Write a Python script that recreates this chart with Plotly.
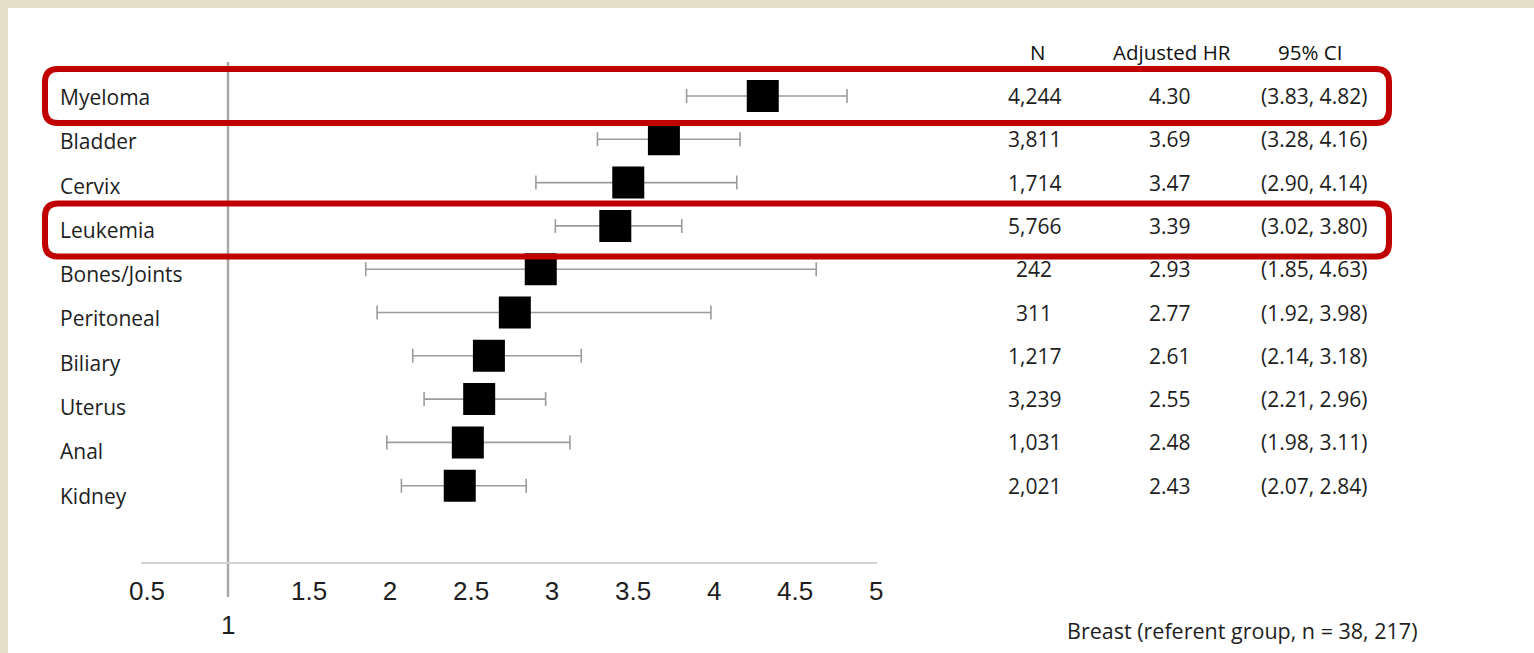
import plotly.graph_objects as go

# Forest plot data (site vs breast referent group)
sites = ["Myeloma", "Bladder", "Cervix", "Leukemia", "Bones/Joints",
         "Peritoneal", "Biliary", "Uterus", "Anal", "Kidney"]
n_cases = ["4,244", "3,811", "1,714", "5,766", "242",
           "311", "1,217", "3,239", "1,031", "2,021"]
hr = [4.30, 3.69, 3.47, 3.39, 2.93, 2.77, 2.61, 2.55, 2.48, 2.43]
ci_low = [3.83, 3.28, 2.90, 3.02, 1.85, 1.92, 2.14, 2.21, 1.98, 2.07]
ci_high = [4.82, 4.16, 4.14, 3.80, 4.63, 3.98, 3.18, 2.96, 3.11, 2.84]
tick_vals = [0.5, 1, 1.5, 2, 2.5, 3, 3.5, 4, 4.5, 5]
tick_text = ["0.5", "", "1.5", "2", "2.5", "3", "3.5", "4", "4.5", "5"]
highlighted = ["Myeloma", "Leukemia"]
headers = ["N", "Adjusted HR", "95% CI"]
footnote = "Breast (referent group, n = 38, 217)"

W, H = 1534, 653
TEXT_FONT = "Open Sans"
TICK_FONT = "Liberation Sans, Arial"
INK = "#1e1e1e"


def px_x(p):
    return p / W


def px_y(p):
    return 1 - p / H


rows = list(range(len(sites)))

fig = go.Figure()
fig.add_trace(go.Scatter(
    x=hr, y=rows, mode="markers",
    marker=dict(symbol="square", size=32, color="black", line=dict(width=0)),
    error_x=dict(type="data", symmetric=False,
                 array=[h - m for h, m in zip(ci_high, hr)],
                 arrayminus=[m - l for m, l in zip(hr, ci_low)],
                 color="#9c9c9c", thickness=1.6, width=7),
    hoverinfo="skip", showlegend=False,
))

annotations = []
# site names, left aligned
for i, s in enumerate(sites):
    annotations.append(dict(
        x=px_x(58), y=px_y(97 + 44.3 * i), xref="paper", yref="paper",
        text=s, showarrow=False, xanchor="left", yanchor="middle",
        font=dict(family=TEXT_FONT, size=21, color=INK)))

# table columns
col_x = [1034, 1170, 1314]
ci_text = [f"({l:.2f}, {h:.2f})" for l, h in zip(ci_low, ci_high)]
hr_text = [f"{v:.2f}" for v in hr]
for i in rows:
    for cx, txt in zip(col_x, [n_cases[i], hr_text[i], ci_text[i]]):
        annotations.append(dict(
            x=px_x(cx), y=i, xref="paper", yref="y",
            text=txt, showarrow=False, xanchor="center", yanchor="middle",
            font=dict(family=TEXT_FONT, size=21, color=INK)))

for hx, htxt in zip([1037, 1172, 1310], headers):
    annotations.append(dict(
        x=px_x(hx), y=px_y(52), xref="paper", yref="paper",
        text=htxt, showarrow=False, xanchor="center", yanchor="middle",
        font=dict(family=TEXT_FONT, size=20.5, color="#111111")))

annotations.append(dict(
    x=px_x(1242), y=px_y(630), xref="paper", yref="paper",
    text=footnote, showarrow=False, xanchor="center", yanchor="middle",
    font=dict(family=TEXT_FONT, size=21.5, color=INK)))

# the "1" tick label sits lower, under the reference line
annotations.append(dict(
    x=1, y=px_y(625), xref="x", yref="paper", text="1", showarrow=False,
    xanchor="center", yanchor="middle",
    font=dict(family=TICK_FONT, size=26, color=INK)))


def rounded_box(x0, y0, x1, y1, r):
    pts = [
        ("M", [(x0 + r, y0)]), ("L", [(x1 - r, y0)]), ("Q", [(x1, y0), (x1, y0 + r)]),
        ("L", [(x1, y1 - r)]), ("Q", [(x1, y1), (x1 - r, y1)]),
        ("L", [(x0 + r, y1)]), ("Q", [(x0, y1), (x0, y1 - r)]),
        ("L", [(x0, y0 + r)]), ("Q", [(x0, y0), (x0 + r, y0)]),
    ]
    parts = []
    for cmd, coords in pts:
        parts.append(cmd + " " + " ".join(f"{px_x(a):.5f},{px_y(b):.5f}" for a, b in coords))
    return " ".join(parts) + " Z"


shapes = [
    # white page on the beige frame
    dict(type="rect", xref="paper", yref="paper", x0=px_x(8), x1=1, y0=0, y1=px_y(8),
         fillcolor="white", line=dict(width=0), layer="below"),
    # reference line at HR = 1
    dict(type="line", xref="x", yref="paper", x0=1, x1=1, y0=px_y(62), y1=px_y(597),
         line=dict(color="#a8a8a8", width=2.5), layer="below"),
]
box_rows = {"Myeloma": (69, 123), "Leukemia": (203.5, 256.5)}
for name in highlighted:
    top, bot = box_rows[name]
    shapes.append(dict(type="path", xref="paper", yref="paper",
                       path=rounded_box(45, top, 1389, bot, 13),
                       line=dict(color="#c00000", width=6)))

fig.update_layout(
    width=W, height=H,
    margin=dict(l=0, r=0, t=0, b=0, pad=0, autoexpand=False),
    paper_bgcolor="#e6dfc8",
    plot_bgcolor="rgba(0,0,0,0)",
    xaxis=dict(domain=[px_x(141), px_x(877)], range=[0.463, 5.005],
               tickvals=tick_vals, ticktext=tick_text, ticks="",
               showgrid=False, zeroline=False, automargin=False,
               showline=True, linecolor="#d2d2d2", linewidth=2,
               tickfont=dict(family=TICK_FONT, size=26, color=INK),
               ticklabelstandoff=5),
    yaxis=dict(domain=[px_y(562), 1], range=[10.762, -2.217], visible=False,
               automargin=False),
    annotations=annotations,
    shapes=shapes,
)

fig.write_html("out.html")
